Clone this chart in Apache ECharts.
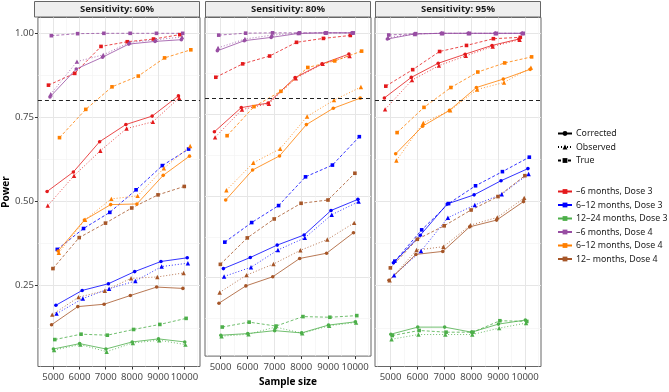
<!DOCTYPE html>
<html>
<head>
<meta charset="utf-8">
<script src="https://cdn.jsdelivr.net/npm/echarts@6/dist/echarts.min.js"></script>
<style>
html, body { margin: 0; padding: 0; background: #fff; }
#chart { width: 669px; height: 392px; }
</style>
</head>
<body>
<div id="chart"></div>
<script>
var sampleSizes = [5000, 6000, 7000, 8000, 9000, 10000];
var panels = ['Sensitivity: 60%', 'Sensitivity: 80%', 'Sensitivity: 95%'];
var groups = ['\u20136 months, Dose 3', '6\u201312 months, Dose 3', '12\u201324 months, Dose 3',
	'\u20136 months, Dose 4', '6\u201312 months, Dose 4', '12\u2013 months, Dose 4'];
var methods = ['Corrected', 'Observed', 'True'];
var xTicks = [5000, 6000, 7000, 8000, 9000, 10000];
var yTicks = [0.25, 0.5, 0.75, 1.0];
var target = 0.8;

// rows: Corrected, Observed, True
var s60_m6d3 = [[0.530, 0.588, 0.678, 0.729, 0.754, 0.814], [0.488, 0.577, 0.651, 0.717, 0.737, 0.808], [0.846, 0.881, 0.961, 0.975, 0.983, 0.996]];
var s60_612d3 = [[0.192, 0.236, 0.256, 0.292, 0.322, 0.333], [0.167, 0.212, 0.241, 0.264, 0.307, 0.317], [0.358, 0.420, 0.468, 0.535, 0.607, 0.656]];
var s60_1224d3 = [[0.062, 0.078, 0.062, 0.083, 0.092, 0.083], [0.059, 0.075, 0.054, 0.080, 0.088, 0.075], [0.090, 0.106, 0.103, 0.120, 0.135, 0.153]];
var s60_m6d4 = [[0.811, 0.894, 0.929, 0.968, 0.976, 0.981], [0.819, 0.916, 0.936, 0.973, 0.981, 0.989], [0.993, 0.999, 1.0, 1.0, 1.0, 1.0]];
var s60_612d4 = [[0.353, 0.445, 0.491, 0.493, 0.578, 0.635], [0.348, 0.446, 0.508, 0.517, 0.599, 0.665], [0.690, 0.774, 0.841, 0.873, 0.927, 0.951]];
var s60_12d4 = [[0.134, 0.188, 0.195, 0.221, 0.246, 0.242], [0.164, 0.216, 0.235, 0.272, 0.276, 0.288], [0.301, 0.393, 0.436, 0.481, 0.520, 0.545]];

var s80_m6d3 = [[0.697, 0.771, 0.785, 0.863, 0.905, 0.935], [0.680, 0.765, 0.783, 0.861, 0.905, 0.929], [0.864, 0.905, 0.929, 0.971, 0.983, 0.992]];
var s80_612d3 = [[0.278, 0.312, 0.350, 0.381, 0.456, 0.490], [0.254, 0.282, 0.335, 0.372, 0.443, 0.483], [0.359, 0.419, 0.471, 0.559, 0.595, 0.682]];
var s80_1224d3 = [[0.074, 0.079, 0.088, 0.081, 0.105, 0.115], [0.071, 0.077, 0.099, 0.080, 0.103, 0.113], [0.099, 0.114, 0.102, 0.131, 0.129, 0.134]];
var s80_m6d4 = [[0.945, 0.976, 0.986, 0.998, 1.0, 1.0], [0.954, 0.981, 0.993, 0.999, 1.0, 1.0], [0.993, 0.999, 1.0, 1.0, 1.0, 1.0]];
var s80_612d4 = [[0.488, 0.580, 0.623, 0.719, 0.769, 0.800], [0.518, 0.602, 0.645, 0.744, 0.794, 0.834], [0.685, 0.774, 0.821, 0.894, 0.914, 0.944]];
var s80_12d4 = [[0.172, 0.225, 0.253, 0.309, 0.325, 0.388], [0.205, 0.258, 0.292, 0.334, 0.367, 0.418], [0.291, 0.372, 0.430, 0.478, 0.488, 0.570]];

var s95_m6d3 = [[0.808, 0.869, 0.911, 0.938, 0.964, 0.983], [0.774, 0.861, 0.904, 0.933, 0.961, 0.981], [0.843, 0.892, 0.946, 0.964, 0.984, 0.988]];
var s95_612d3 = [[0.318, 0.400, 0.493, 0.520, 0.562, 0.598], [0.281, 0.353, 0.452, 0.490, 0.522, 0.582], [0.323, 0.416, 0.494, 0.547, 0.589, 0.632]];
var s95_1224d3 = [[0.106, 0.127, 0.127, 0.112, 0.136, 0.148], [0.091, 0.105, 0.105, 0.105, 0.124, 0.139], [0.102, 0.117, 0.112, 0.112, 0.146, 0.144]];
var s95_m6d4 = [[0.983, 0.998, 1.0, 1.0, 1.0, 1.0], [0.987, 0.998, 1.0, 1.0, 1.0, 1.0], [0.995, 0.999, 1.0, 1.0, 1.0, 1.0]];
var s95_612d4 = [[0.642, 0.724, 0.771, 0.839, 0.864, 0.893], [0.622, 0.734, 0.771, 0.833, 0.854, 0.898], [0.705, 0.780, 0.839, 0.885, 0.912, 0.930]];
var s95_12d4 = [[0.266, 0.343, 0.352, 0.425, 0.445, 0.500], [0.266, 0.356, 0.366, 0.430, 0.453, 0.511], [0.303, 0.388, 0.428, 0.475, 0.515, 0.577]];

var power = [
	[s60_m6d3, s60_612d3, s60_1224d3, s60_m6d4, s60_612d4, s60_12d4],
	[s80_m6d3, s80_612d3, s80_1224d3, s80_m6d4, s80_612d4, s80_12d4],
	[s95_m6d3, s95_612d3, s95_1224d3, s95_m6d4, s95_612d4, s95_12d4]
];

// styling
var colors = ['#E41A1C', '#0000FF', '#4DAF4A', '#984EA3', '#FF7F00', '#A65628'];
var symbols = ['circle', 'triangle', 'rect'];
var symbolSizes = [3.6, 4.4, 3.6];
var lineTypes = ['solid', [1, 2], [3, 2]];
// small horizontal dodge, like position_dodge in the original
var groupShift = [-205, 130, 35, -95, 215, -35];
var methodShift = [-26, 0, 26];

var panelLeft = [34, 205, 375];
var panelWidth = 166;
var panelTop = 17.5;
var panelBottom = 25.5;
var xMin = 4420, xMax = 10590;
var yMin = 0.01, yMax = 1.047;

var xMinor = xTicks.map(function(v) { return v - 500; }).concat([xTicks[xTicks.length - 1] + 500]);
var yMinor = yTicks.map(function(v) { return v - 0.125; });

var grids = [], xAxes = [], yAxes = [], series = [], graphics = [];
var font = 'Noto Sans';

for (var p = 0; p < 3; p++) {
	grids.push({
		left : panelLeft[p],
		top : panelTop,
		width : panelWidth,
		bottom : panelBottom,
		show : true,
		borderColor : '#666',
		borderWidth : 1,
		backgroundColor : '#fff'
	});
}
// major axes 0..2
for (var p = 0; p < 3; p++) {
	xAxes.push({
		gridIndex : p,
		type : 'value',
		min : xMin,
		max : xMax,
		axisLine : { show : false },
		axisTick : { show : true, length : 3, customValues : xTicks, lineStyle : { color : '#333' } },
		axisLabel : { customValues : xTicks, fontSize : 9.6, color : '#4d4d4d', margin : 6, fontFamily : font,
			hideOverlap : false, formatter : function(v) { return String(v); } },
		splitLine : { show : true, lineStyle : { color : '#e6e6e6', width : 1 } },
		name : p == 1 ? 'Sample size' : '',
		nameLocation : 'middle',
		nameGap : 16,
		nameTextStyle : { fontSize : 10, fontWeight : 'bold', color : '#000', fontFamily : font }
	});
	yAxes.push({
		gridIndex : p,
		type : 'value',
		min : yMin,
		max : yMax,
		axisLine : { show : false },
		axisTick : { show : p == 0, length : 3, customValues : yTicks, lineStyle : { color : '#333' } },
		axisLabel : { show : p == 0, customValues : yTicks, fontSize : 9.6, color : '#4d4d4d', margin : 4, fontFamily : font,
			formatter : function(v) { return v.toFixed(2); } },
		splitLine : { show : true, lineStyle : { color : '#e6e6e6', width : 1 } },
		name : p == 0 ? 'Power' : '',
		nameLocation : 'middle',
		nameGap : 24,
		nameRotate : 90,
		nameTextStyle : { fontSize : 10, fontWeight : 'bold', color : '#000', fontFamily : font }
	});
}
// minor grid axes 3..5
for (var p = 0; p < 3; p++) {
	xAxes.push({
		gridIndex : p, type : 'value', min : xMin, max : xMax,
		axisLine : { show : false },
		axisTick : { show : false, customValues : xMinor },
		axisLabel : { show : false },
		splitLine : { show : true, lineStyle : { color : '#f2f2f2', width : 0.6 } }
	});
	yAxes.push({
		gridIndex : p, type : 'value', min : yMin, max : yMax,
		axisLine : { show : false },
		axisTick : { show : false, customValues : yMinor },
		axisLabel : { show : false },
		splitLine : { show : true, lineStyle : { color : '#f2f2f2', width : 0.6 } }
	});
}

for (var p = 0; p < 3; p++) {
	for (var g = 0; g < groups.length; g++) {
		for (var m = 0; m < methods.length; m++) {
			var vals = power[p][g][m];
			var pts = sampleSizes.map(function(s, i) {
				return [s + groupShift[g] + methodShift[m], vals[i]];
			});
			var s = {
				name : panels[p] + ' ' + groups[g] + ' ' + methods[m],
				type : 'line',
				xAxisIndex : p,
				yAxisIndex : p,
				data : pts,
				symbol : symbols[m],
				symbolSize : symbolSizes[m],
				showSymbol : true,
				color : colors[g],
				lineStyle : { width : 0.8, type : lineTypes[m], color : colors[g] },
				itemStyle : { color : colors[g] },
				emphasis : { disabled : true },
				silent : true
			};
			if (g == 0 && m == 0) {
				s.markLine = {
					silent : true,
					symbol : [ 'none', 'none' ],
					label : { show : false },
					lineStyle : { color : '#222', type : [4, 3], width : 1 },
					data : [ { yAxis : target } ]
				};
			}
			series.push(s);
		}
	}
	graphics.push({
		type : 'rect',
		shape : { x : panelLeft[p] + 0.5, y : 1.5, width : panelWidth - 1, height : 15.5 },
		style : { fill : '#efefef', stroke : '#666', lineWidth : 1 }
	});
	graphics.push({
		type : 'text',
		x : panelLeft[p] + panelWidth / 2,
		y : 9.5,
		style : { text : panels[p], fill : '#1a1a1a', font : 'bold 9.5px "Noto Sans"', textAlign : 'center', textVerticalAlign : 'middle' }
	});
}

// legend-only series
for (var m = 0; m < methods.length; m++) {
	series.push({
		name : methods[m], type : 'line', xAxisIndex : 0, yAxisIndex : 0, data : [],
		symbol : symbols[m], color : '#000',
		lineStyle : { width : 0.8, type : lineTypes[m], color : '#000' },
		itemStyle : { color : '#000' }
	});
}
for (var g = 0; g < groups.length; g++) {
	series.push({
		name : groups[g], type : 'line', xAxisIndex : 0, yAxisIndex : 0, data : [],
		symbol : 'rect', color : colors[g],
		lineStyle : { width : 0.8, color : colors[g] },
		itemStyle : { color : colors[g] }
	});
}

var legendCommon = {
	orient : 'vertical',
	left : 552,
	itemWidth : 14,
	itemHeight : 6,
	itemGap : 2.5,
	selectedMode : false,
	textStyle : { fontSize : 8.8, color : '#1a1a1a', lineHeight : 11, fontFamily : font, padding : [0, 0, 0, -1] }
};

var option = {
	animation : false,
	backgroundColor : '#fff',
	grid : grids,
	xAxis : xAxes,
	yAxis : yAxes,
	legend : [
		Object.assign({}, legendCommon, { top : 123, data : methods }),
		Object.assign({}, legendCommon, { top : 181, data : groups })
	],
	graphic : graphics,
	series : series
};

var chart = echarts.init(document.getElementById('chart'));
chart.setOption(option);
</script>
</body>
</html>
